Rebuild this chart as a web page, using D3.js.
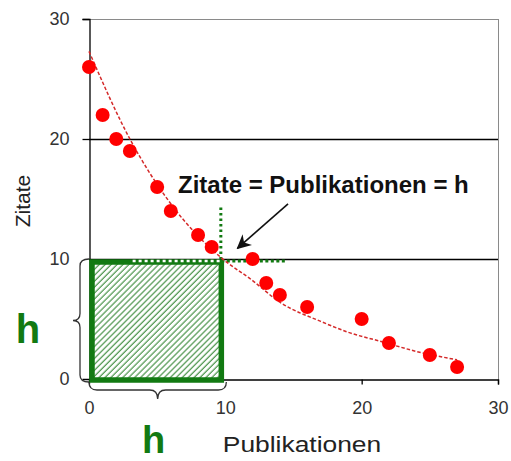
<!DOCTYPE html>
<html><head><meta charset="utf-8">
<script src="https://cdn.jsdelivr.net/npm/d3@7"></script>
<style>html,body{margin:0;padding:0;background:#fff;}svg{display:block;}</style>
</head><body>
<svg id="c" width="511" height="461"></svg>
<script>
// ---- data ----
const publications = [0, 1, 2, 3, 5, 6, 8, 9, 12, 13, 14, 16, 20, 22, 25, 27];
const citations    = [26, 22, 20, 19, 16, 14, 12, 11, 10, 8, 7, 6, 5, 3, 2, 1];
const trendX = [0, 3, 6, 9.6, 12, 14, 17, 19, 21.5, 24, 27];
const trendY = [27.3, 20, 14.6, 10.2, 8.2, 6.4, 4.8, 3.9, 3.1, 2.3, 1.6];
const xTicks = [0, 10, 20, 30];
const yTicks = [0, 10, 20, 30];
const hIndex = 10;
const xTitle = "Publikationen";
const yTitle = "Zitate";
const annotation = "Zitate = Publikationen = h";
const hLabel = "h";

const svg = d3.select("#c");
const x = d3.scaleLinear().domain([0, 30]).range([89, 498]);
const y = d3.scaleLinear().domain([0, 30]).range([379, 19]);
const green = "#127a12";
const font = "Arial, 'Liberation Sans', sans-serif";

// hatch pattern
const defs = svg.append("defs");
const pat = defs.append("pattern").attr("id", "hatch").attr("patternUnits", "userSpaceOnUse")
  .attr("width", 4.2).attr("height", 10).attr("patternTransform", "rotate(45)");
pat.append("rect").attr("width", 4.2).attr("height", 10).attr("fill", "#fff");
pat.append("line").attr("x1", 1).attr("y1", 0).attr("x2", 1).attr("y2", 10)
  .attr("stroke", "#3a8a3a").attr("stroke-width", 1.1);
defs.append("marker").attr("id", "arr").attr("viewBox", "0 0 10 10").attr("refX", 9).attr("refY", 5)
  .attr("markerWidth", 9).attr("markerHeight", 9).attr("orient", "auto")
  .append("path").attr("d", "M0,0 L10,5 L0,10 L3,5 Z").attr("fill", "#111");

// frame (top/right gray)
svg.append("line").attr("x1", x(0)).attr("x2", x(30)).attr("y1", y(30) + 0.5).attr("y2", y(30) + 0.5).attr("stroke", "#8a8a8a");
svg.append("line").attr("x1", x(30) + 0.5).attr("x2", x(30) + 0.5).attr("y1", y(30)).attr("y2", y(0)).attr("stroke", "#8a8a8a");
// gridlines
svg.append("g").selectAll("line").data([10, 20]).join("line")
  .attr("x1", x(0)).attr("x2", x(30)).attr("y1", d => y(d) + 0.5).attr("y2", d => y(d) + 0.5)
  .attr("stroke", "#000").attr("stroke-width", 1.3);

// axes
const xAxis = svg.append("g").attr("transform", `translate(0,${y(0) + 0.5})`)
  .call(d3.axisBottom(x).tickValues(xTicks).tickSize(5).tickPadding(17).tickFormat(d3.format("d")));
const yAxis = svg.append("g").attr("transform", `translate(${x(0) + 0.5},0)`)
  .call(d3.axisLeft(y).tickValues(yTicks).tickSize(7).tickPadding(13).tickFormat(d3.format("d")));
[xAxis, yAxis].forEach(a => {
  a.select(".domain").attr("stroke", "#000").attr("stroke-width", 1.3);
  a.selectAll(".tick line").attr("stroke", "#000").attr("stroke-width", 1.3);
  a.selectAll(".tick text").attr("font-family", font).attr("font-size", 18).attr("fill", "#333");
});
xAxis.selectAll(".tick").filter(d => d === 0 || d === 10).select("line").remove();
yAxis.selectAll(".tick").filter(d => d === 0 || d === 10).select("line").remove();

// green square (h x h)
svg.append("rect")
  .attr("x", x(0) + 3).attr("y", y(hIndex) + 3)
  .attr("width", x(hIndex) - x(0) - 7).attr("height", y(0) - y(hIndex) - 2)
  .attr("fill", "url(#hatch)").attr("stroke", green).attr("stroke-width", 5.5);

// dotted guides
svg.append("line").attr("x1", x(3.2)).attr("x2", x(hIndex) - 4).attr("y1", y(hIndex) + 2).attr("y2", y(hIndex) + 2)
  .attr("stroke", "#fff").attr("stroke-width", 2.5).attr("stroke-dasharray", "3,3");
svg.append("line").attr("x1", x(hIndex) - 4).attr("x2", x(14.4)).attr("y1", y(hIndex) + 2).attr("y2", y(hIndex) + 2)
  .attr("stroke", green).attr("stroke-width", 3).attr("stroke-dasharray", "3,2.5");
svg.append("line").attr("x1", x(hIndex) - 4.5).attr("x2", x(hIndex) - 4.5).attr("y1", y(14.3)).attr("y2", y(hIndex))
  .attr("stroke", green).attr("stroke-width", 3).attr("stroke-dasharray", "2.5,3");

// trend line
const trend = trendX.map((v, i) => [v, trendY[i]]);
svg.append("path").datum(trend)
  .attr("d", d3.line().x(d => x(d[0])).y(d => y(d[1])).curve(d3.curveMonotoneX))
  .attr("fill", "none").attr("stroke", "#d42a2a").attr("stroke-width", 1.5).attr("stroke-dasharray", "3.5,2");

// points
svg.append("g").selectAll("circle").data(publications.map((p, i) => [p, citations[i]])).join("circle")
  .attr("cx", d => x(d[0])).attr("cy", d => y(d[1])).attr("r", 7).attr("fill", "#ff0000");

// braces
const bx = x(0), by0 = y(hIndex), by1 = y(0) + 3, bm = (by0 + by1) / 2;
svg.append("path")
  .attr("d", `M${bx},${by0} Q${bx-9},${by0} ${bx-9},${by0+7} L${bx-9},${bm-7} Q${bx-9},${bm} ${bx-16},${bm} Q${bx-9},${bm} ${bx-9},${bm+7} L${bx-9},${by1-7} Q${bx-9},${by1} ${bx},${by1}`)
  .attr("fill", "none").attr("stroke", "#333").attr("stroke-width", 1.3);
const cx0 = x(0), cx1 = x(hIndex) + 1, cy = y(0) + 3, cm = (cx0 + cx1) / 2;
svg.append("path")
  .attr("d", `M${cx0},${cy} Q${cx0},${cy+8} ${cx0+8},${cy+8} L${cm-8},${cy+8} Q${cm},${cy+8} ${cm},${cy+17} Q${cm},${cy+8} ${cm+8},${cy+8} L${cx1-8},${cy+8} Q${cx1},${cy+8} ${cx1},${cy}`)
  .attr("fill", "none").attr("stroke", "#333").attr("stroke-width", 1.3);

// h labels
svg.append("text").attr("x", 28).attr("y", 343).attr("text-anchor", "middle")
  .attr("font-family", font).attr("font-weight", "bold").attr("font-size", 40).attr("fill", green).text(hLabel);
svg.append("text").attr("x", cm - 4).attr("y", 453).attr("text-anchor", "middle")
  .attr("font-family", font).attr("font-weight", "bold").attr("font-size", 38).attr("fill", green).text(hLabel);

// axis titles
svg.append("text").attr("x", 302).attr("y", 452).attr("text-anchor", "middle")
  .attr("font-family", font).attr("font-size", 22).attr("fill", "#222")
  .attr("transform", "translate(302,0) scale(1.2,1) translate(-302,0)").text(xTitle);
svg.append("text").attr("transform", "translate(30,201) rotate(-90)").attr("text-anchor", "middle")
  .attr("font-family", font).attr("font-size", 21).attr("fill", "#222").text(yTitle);

// annotation
svg.append("text").attr("x", 178).attr("y", 193)
  .attr("font-family", font).attr("font-weight", "bold").attr("font-size", 24).attr("fill", "#111")
  .text(annotation);
svg.append("line").attr("x1", x(14.6)).attr("y1", y(14.6)).attr("x2", x(10.9)).attr("y2", y(10.9))
  .attr("stroke", "#111").attr("stroke-width", 1.6).attr("marker-end", "url(#arr)");
</script>
</body></html>
